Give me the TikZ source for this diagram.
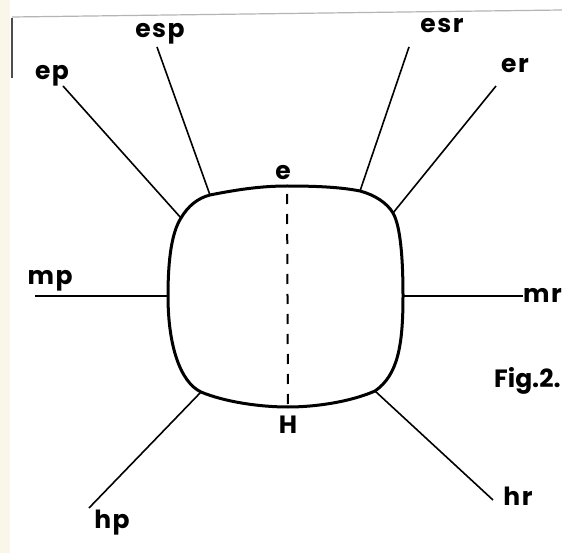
\documentclass[tikz,border=0pt]{standalone}
\usepackage{fontspec}
\setmainfont{Poppins}[LetterSpace=6]
\usetikzlibrary{positioning}
\definecolor{scanbeige}{RGB}{250,246,233}
\definecolor{scangray}{RGB}{180,180,180}

\tikzset{
  lbl/.style={font=\fontsize{25}{25}\selectfont\bfseries, inner sep=0pt, anchor=base},
  ray/.style={line width=1.6pt},
  outline/.style={line width=3pt, line join=round},
  axisdash/.style={line width=2pt, dash pattern=on 10pt off 10pt, dash phase=-8pt},
}

\begin{document}
\begin{tikzpicture}[x=1pt, y=-1pt]
  \useasboundingbox (0,0) rectangle (562,553);
  \fill[white] (0,0) rectangle (562,553);
  \fill[scanbeige] (0,0) rectangle (10,553);
  % edge of the scanned sheet
  \draw[scangray, line width=1.2pt] (12,17) -- (562,10);
  \draw[black!70, line width=1.2pt] (12,18) -- (12,78);

  % points on the outline
  \coordinate (L)  at (168,296);
  \coordinate (TL) at (181,218);
  \coordinate (T1) at (210,195);
  \coordinate (T)  at (287,186);
  \coordinate (T2) at (360,191);
  \coordinate (TR) at (393,213);
  \coordinate (R)  at (403,296);
  \coordinate (BR) at (375,391);
  \coordinate (B)  at (288,407);
  \coordinate (BL) at (201,392);

  \draw[outline] (L) .. controls (168,258) and (172,232) .. (TL)
    .. controls (188,206) and (198,198) .. (T1)
    .. controls (235,190) and (260,186) .. (T)
    .. controls (315,186) and (340,187) .. (T2)
    .. controls (375,195) and (387,203) .. (TR)
    .. controls (400,225) and (403,255) .. (R)
    .. controls (403,345) and (398,375) .. (BR)
    .. controls (350,402) and (315,407) .. (B)
    .. controls (260,407) and (225,402) .. (BL)
    .. controls (180,382) and (168,345) .. (L) -- cycle;

  \draw[axisdash] (T) -- (B);

  % labels
  \node[lbl] (ep)  at (52,80)   {ep};
  \node[lbl] (esp) at (160,38)  {esp};
  \node[lbl] (esr) at (442,33)  {esr};
  \node[lbl] (er)  at (515,73)  {er};
  \node[lbl] (mp)  at (50,285)  {mp};
  \node[lbl, anchor=base west] (mr) at (523,302) {mr};
  \node[lbl] (hp)  at (112,528) {hp};
  \node[lbl] (hr)  at (518,505) {hr};
  \node[lbl] (e)   at (283,180) {e};
  \node[lbl] (H)   at (288,433) {H};
  \node[lbl, anchor=base west] (fig) at (494,387) {\addfontfeatures{LetterSpace=0}Fig.2.};

  % free ends of the rays
  \coordinate (ep-end)  at (63,86);
  \coordinate (esp-end) at (157,47);
  \coordinate (esr-end) at (409,47);
  \coordinate (er-end)  at (496,86);
  \coordinate (mp-end)  at (35,296);
  \coordinate (hp-end)  at (89,508);
  \coordinate (hr-end)  at (493,500);

  \draw[ray] (ep-end) -- (TL);
  \draw[ray] (esp-end) -- (T1);
  \draw[ray] (esr-end) -- (T2);
  \draw[ray] (er-end) -- (TR);
  \draw[ray] (mp-end) -- (L);
  \draw[ray] (mr.west |- R) -- (R);
  \draw[ray] (hp-end) -- (BL);
  \draw[ray] (hr-end) -- (BR);
\end{tikzpicture}
\end{document}
